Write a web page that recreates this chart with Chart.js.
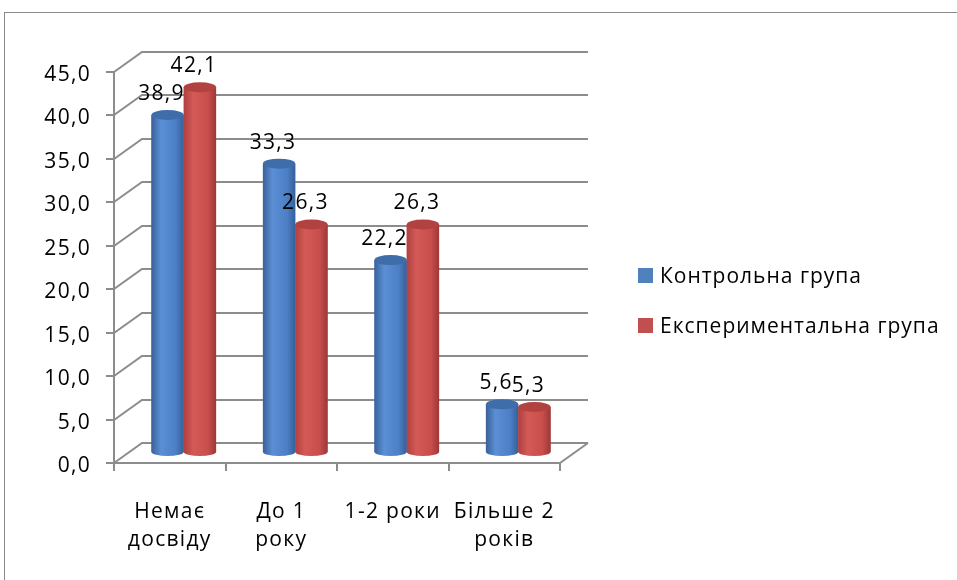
<!DOCTYPE html>
<html>
<head>
    <meta charset="utf-8">
    <title>Досвід роботи</title>
    <script src="https://cdn.jsdelivr.net/npm/chart.js"></script>
    <style>
        body { margin: 0; background: #fff; }
    </style>
</head>
<body>
    <canvas id="chart" width="957" height="580"></canvas>
    <script>
        const categories = [['Немає', 'досвіду'], ['До 1', 'року'], ['1-2 роки'], ['Більше 2', 'років']];
        const seriesNames = ['Контрольна група', 'Експериментальна група'];
        const control = [38.9, 33.3, 22.2, 5.6];
        const experimental = [42.1, 26.3, 26.3, 5.3];
        const yMin = 0, yMax = 45, yStep = 5;

        const FONT = '"Open Sans", "Noto Sans", sans-serif';
        const GRID = '#8c8c8c';
        const DX = 28, DY = 20; // depth of the 3d wall
        const colors = [
            { base: '#4f81bd', edge: '#3a6199', light: '#5b8fd6', mid: '#4c7fc4', dark: '#35609a', top: '#3f6daa' },
            { base: '#c0504d', edge: '#b0403e', light: '#d35a57', mid: '#c84e4b', dark: '#9c3836', top: '#b2423f' }
        ];

        const fmt = v => v.toFixed(1).replace('.', ',');

        function drawCylinder(ctx, el, c) {
            const { x, y, base, width } = el.getProps(['x', 'y', 'base', 'width'], true);
            const l = x - width / 2, r = x + width / 2, rx = width / 2, ry = 5;
            const g = ctx.createLinearGradient(l, 0, r, 0);
            g.addColorStop(0, c.edge);
            g.addColorStop(0.3, c.light);
            g.addColorStop(0.75, c.mid);
            g.addColorStop(1, c.dark);
            ctx.fillStyle = g;
            ctx.beginPath();
            ctx.moveTo(l, y);
            ctx.lineTo(l, base);
            ctx.ellipse(x, base, rx, ry - 1, 0, Math.PI, 0, true);
            ctx.lineTo(r, y);
            ctx.closePath();
            ctx.fill();
            ctx.fillStyle = c.top;
            ctx.beginPath();
            ctx.ellipse(x, y, rx, ry, 0, 0, Math.PI * 2);
            ctx.fill();
        }

        const wall3d = {
            id: 'wall3d',
            beforeInit(chart) {
                // the original text is set a little wider than the canvas default
                chart.ctx.letterSpacing = '1.3px';
            },
            beforeDraw(chart) {
                const ctx = chart.ctx;
                ctx.letterSpacing = '1.3px';
                ctx.save();
                ctx.strokeStyle = '#8b8b8b';
                ctx.lineWidth = 1;
                ctx.strokeRect(4.5, 12.5, 1200, 1200);
                ctx.restore();
            },
            beforeDatasetsDraw(chart) {
                const { ctx, chartArea: a, scales: { y } } = chart;
                ctx.save();
                ctx.strokeStyle = GRID;
                ctx.lineWidth = 2;
                ctx.beginPath();
                y.ticks.forEach(t => {
                    const py = Math.round(y.getPixelForValue(t.value));
                    ctx.moveTo(a.left, py);
                    ctx.lineTo(a.left + DX, py - DY);
                    ctx.lineTo(a.right + DX, py - DY);
                });
                ctx.moveTo(a.right, a.bottom);
                ctx.lineTo(a.right + DX, a.bottom - DY);
                ctx.stroke();
                ctx.restore();
                // bars stand halfway into the depth
                ctx.save();
                ctx.translate(DX / 2, -DY / 2);
            },
            afterDatasetsDraw(chart) {
                const ctx = chart.ctx;
                chart.data.datasets.forEach((ds, i) => {
                    chart.getDatasetMeta(i).data.forEach(el => drawCylinder(ctx, el, colors[i]));
                });
                ctx.fillStyle = '#000';
                ctx.font = '21px ' + FONT;
                ctx.textAlign = 'center';
                ctx.textBaseline = 'alphabetic';
                chart.data.datasets.forEach((ds, i) => {
                    chart.getDatasetMeta(i).data.forEach((el, j) => {
                        ctx.fillText(fmt(ds.data[j]), el.x - 6, el.y - 15);
                    });
                });
                ctx.restore();

                // legend
                ctx.save();
                ctx.font = '21px ' + FONT;
                ctx.letterSpacing = '1px';
                ctx.textBaseline = 'alphabetic';
                ctx.textAlign = 'left';
                seriesNames.forEach((name, i) => {
                    const top = 268 + i * 50;
                    ctx.fillStyle = colors[i].base;
                    ctx.fillRect(638, top, 15, 15);
                    ctx.fillStyle = '#000';
                    ctx.fillText(name, 660, top + 15);
                });
                ctx.restore();
            }
        };

        new Chart(document.getElementById('chart'), {
            type: 'bar',
            data: {
                labels: categories,
                datasets: [
                    { label: seriesNames[0], data: control, backgroundColor: colors[0].base },
                    { label: seriesNames[1], data: experimental, backgroundColor: colors[1].base }
                ]
            },
            options: {
                responsive: false,
                animation: false,
                categoryPercentage: 0.58,
                barPercentage: 1,
                layout: { padding: { top: 72, right: 397, bottom: 0, left: 0 } },
                plugins: { legend: { display: false }, tooltip: { enabled: false } },
                scales: {
                    x: {
                        grid: { drawOnChartArea: false, tickLength: 8, color: GRID, lineWidth: 2 },
                        border: { color: GRID, width: 2 },
                        ticks: { color: '#000', font: { family: FONT, size: 21, lineHeight: 1.34 }, padding: 27, maxRotation: 0, autoSkip: false },
                        afterFit: s => { s.height = 117; }
                    },
                    y: {
                        min: yMin,
                        max: yMax,
                        grid: { drawOnChartArea: false, tickLength: 8, color: GRID, lineWidth: 2 },
                        border: { color: GRID, width: 2 },
                        ticks: { stepSize: yStep, color: '#000', font: { family: FONT, size: 21 }, padding: 15, labelOffset: 3, callback: v => fmt(v) },
                        afterFit: s => { s.width = 114; }
                    }
                }
            },
            plugins: [wall3d]
        });
    </script>
</body>
</html>
